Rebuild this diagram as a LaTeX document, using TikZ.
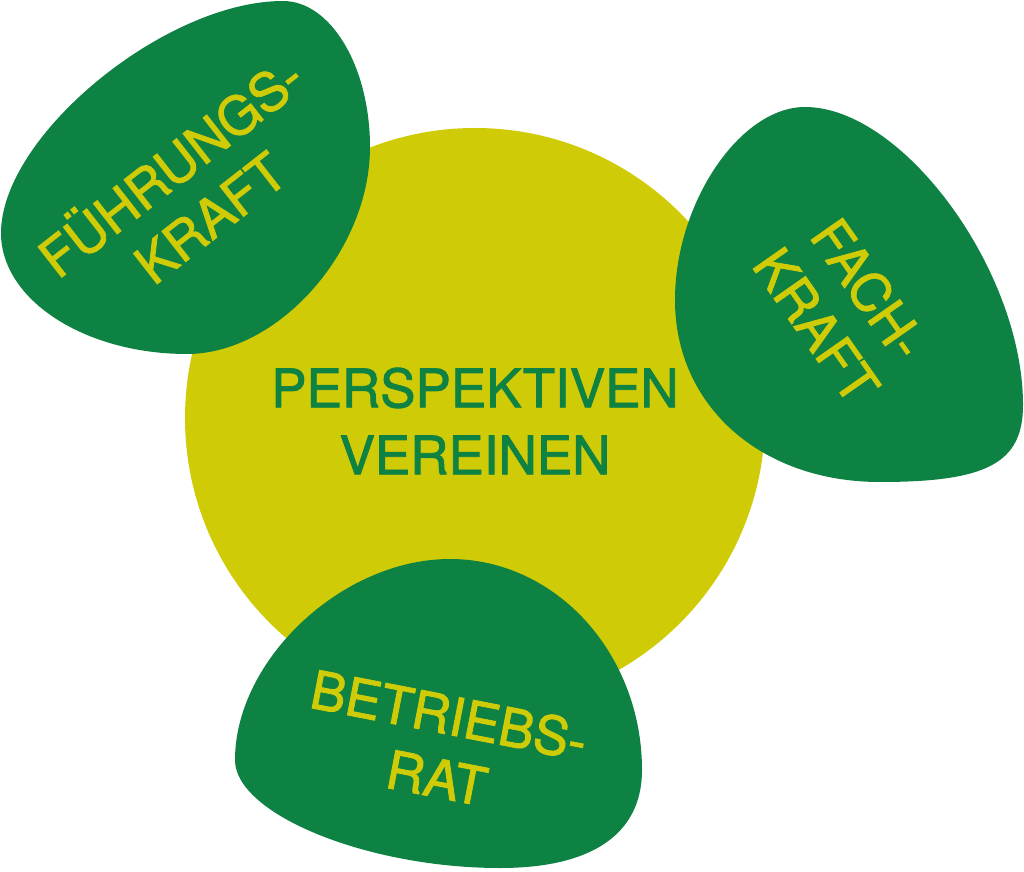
\documentclass[tikz,border=0pt]{standalone}
\usepackage{fontspec}
\setmainfont{TeX Gyre Heros}
\newfontfamily\heavyheros{TeX Gyre Heros}[FakeBold=1.6]
\usepackage{xcolor}
\definecolor{dgreen}{HTML}{0D8242}
\definecolor{lime}{HTML}{D0CB07}

\begin{document}
\begin{tikzpicture}[x=1pt,y=1pt,
        blob/.style={fill=dgreen},
        blobtext/.style={text=lime,align=center,inner sep=0pt,
            font=\heavyheros\fontsize{53}{64}\selectfont},
        maintext/.style={text=dgreen,align=center,inner sep=0pt,
            font=\heavyheros\fontsize{53}{67}\selectfont}]

    \useasboundingbox (0,0) rectangle (1024,871);

    \node[circle,fill=lime,minimum size=580pt,inner sep=0pt] (C) at (475,453) {};

    % fuehrungskraft
    \fill[blob] (370,724) .. controls (370,804) and (331,870) .. (283,870)
        .. controls (165,870) and (1,735) .. (1,638)
        .. controls (1,571) and (85,517) .. (187,517)
        .. controls (278,517) and (370,620) .. cycle;
    % fachkraft
    \fill[blob] (805,764) .. controls (740,764) and (675,668) .. (675,571)
        .. controls (675,465) and (761,389) .. (880,389)
        .. controls (987,389) and (1023,408) .. (1023,466)
        .. controls (1023,600) and (903,764) .. cycle;
    % betriebsrat
    \fill[blob] (450,312) .. controls (342,312) and (235,211) .. (235,111)
        .. controls (235,57) and (367,3) .. (500,3)
        .. controls (592,3) and (642,37) .. (642,101)
        .. controls (642,217) and (556,312) .. cycle;

    \node[maintext] (P) at (C) [yshift=-3pt] {PERSPEKTIVEN\\VEREINEN};
    \node[blobtext,rotate=38] (F) at (188,682) {FÜHRUNGS-\\KRAFT};
    \node[blobtext,rotate=-55] (K) at (843,564) {FACH-\\KRAFT};
    \node[blobtext,rotate=-11] (B) at (443,125) {BETRIEBS-\\RAT};

\end{tikzpicture}
\end{document}
